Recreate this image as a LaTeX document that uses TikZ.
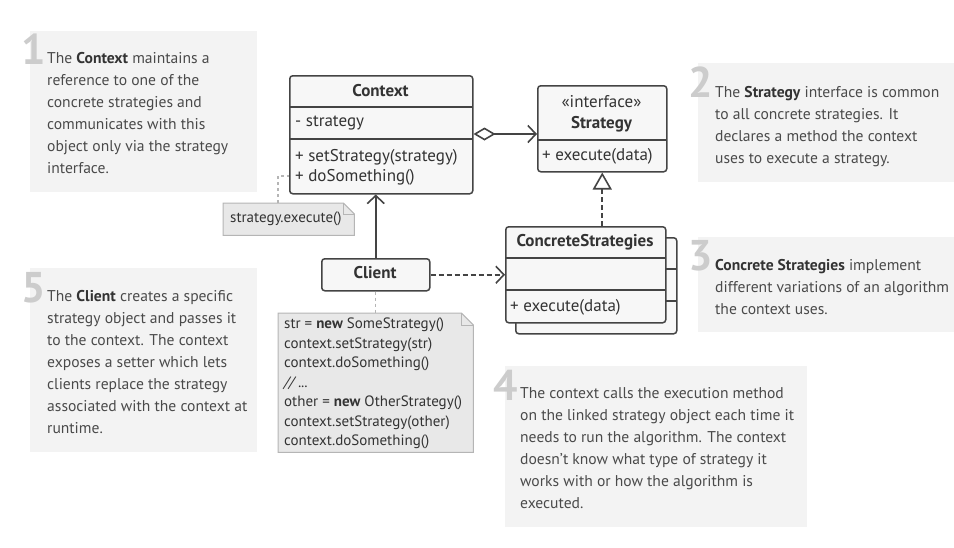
\documentclass[tikz,border=0pt]{standalone}
\usepackage{fontspec}
\setmainfont{PT Sans}
\usetikzlibrary{arrows.meta,calc}
\definecolor{txt}{HTML}{4A4A4A}
\definecolor{txtdark}{HTML}{333333}
\definecolor{bgbox}{HTML}{F3F3F3}
\definecolor{numc}{HTML}{CCCCCC}
\definecolor{umlc}{HTML}{444444}
\definecolor{umlfill}{HTML}{F7F7F7}
\definecolor{notefill}{HTML}{E8E8E8}
\definecolor{notebd}{HTML}{B5B5B5}
\begin{document}
\begin{tikzpicture}[x=1pt,y=-1pt,
  bgrect/.style={fill=bgbox,draw=none,inner sep=0,anchor=north west},
  num/.style={text=numc,font=\fontsize{43}{43}\selectfont\bfseries,inner sep=0,anchor=south west},
  ann/.style={text=txt,font=\fontsize{15.6}{22}\selectfont,align=left,inner sep=0,anchor=north west},
  umlbox/.style={draw=umlc,fill=umlfill,line width=1.5pt,rounded corners=3pt,inner sep=0,anchor=north west},
  umlline/.style={draw=umlc,line width=1.5pt},
  umltxt/.style={text=txtdark,font=\fontsize{17}{20}\selectfont,inner sep=0},
  umlbold/.style={text=txtdark,font=\fontsize{17}{20}\selectfont\bfseries,inner sep=0},
  notebox/.style={draw=notebd,fill=notefill,line width=1pt},
  notetxt/.style={text=txtdark,font=\fontsize{15}{19.5}\selectfont,align=left,inner sep=0,anchor=north west},
  conn/.style={draw=umlc,line width=1.6pt},
  vhead/.style={-{Straight Barb[length=8pt,width=17pt,line width=1.6pt]}},
  dotc/.style={draw=notebd,line width=1.2pt,dash pattern=on 3pt off 3pt}
]
\useasboundingbox (0,0) rectangle (954,547);

% ---------- annotation boxes ----------
\node[bgrect,minimum width=227,minimum height=161] (b1) at (30,31) {};
\node[num] (n1) at (21,65) {1};
\node[ann] (t1) at (47,52) {The \textbf{\color{txtdark}Context} maintains a\\reference to one of the\\concrete strategies and\\communicates with this\\object only via the strategy\\interface.};

\node[bgrect,minimum width=256,minimum height=119] (b2) at (698,63) {};
\node[num] (n2) at (688,98) {2};
\node[ann] (t2) at (715,86) {The \textbf{\color{txtdark}Strategy} interface is common\\to all concrete strategies. It\\declares a method the context\\uses to execute a strategy.};

\node[bgrect,minimum width=256,minimum height=95] (b3) at (698,237) {};
\node[num] (n3) at (688,271) {3};
\node[ann] (t3) at (715,259) {\textbf{\color{txtdark}Concrete Strategies} implement\\different variations of an algorithm\\the context uses.};

\node[bgrect,minimum width=302,minimum height=161] (b4) at (505,366) {};
\node[num] (n4) at (493,401) {4};
\node[ann] (t4) at (520,387) {The context calls the execution method\\on the linked strategy object each time it\\needs to run the algorithm. The context\\doesn't know what type of strategy it\\works with or how the algorithm is\\executed.};

\node[bgrect,minimum width=227,minimum height=184] (b5) at (30,268) {};
\node[num] (n5) at (21,303) {5};
\node[ann] (t5) at (47,290) {The \textbf{\color{txtdark}Client} creates a specific\\strategy object and passes it\\to the context. The context\\exposes a setter which lets\\clients replace the strategy\\associated with the context at\\runtime.};

% ---------- Context ----------
\node[umlbox,minimum width=183,minimum height=118] (ctx) at (289,75) {};
\draw[umlline] (289,107) -- (472,107);
\draw[umlline] (289,139) -- (472,139);
\node[umlbold] (ctxT) at (380.5,91) {Context};
\node[umltxt,anchor=west] (ctxA) at (295,123) {- strategy};
\node[umltxt,anchor=west] (ctxM1) at (295,157) {+ setStrategy(strategy)};
\node[umltxt,anchor=west] (ctxM2) at (295,177) {+ doSomething()};

% ---------- Strategy ----------
\node[umlbox,minimum width=129,minimum height=86] (str) at (537,85) {};
\draw[umlline] (537,140) -- (666,140);
\node[umltxt] (strS) at (601.5,102) {«interface»};
\node[umlbold] (strT) at (601.5,124) {Strategy};
\node[umltxt,anchor=west] (strM) at (542,156) {+ execute(data)};

% ---------- ConcreteStrategies ----------
\node[umlbox,minimum width=161,minimum height=96] (csb) at (515,237) {};
\draw[umlline] (665,269) -- (676,269);
\draw[umlline] (665,301) -- (676,301);
\node[umlbox,minimum width=160,minimum height=96] (cs) at (505,226) {};
\draw[umlline] (505,258) -- (665,258);
\draw[umlline] (505,290) -- (665,290);
\node[umlbold] (csT) at (585,242) {ConcreteStrategies};
\node[umltxt,anchor=west] (csM) at (510,307) {+ execute(data)};

% ---------- Client ----------
\node[umlbox,minimum width=108,minimum height=32] (cl) at (321,258) {};
\node[umlbold] (clT) at (375,273) {Client};

% ---------- notes ----------
\node[inner sep=0,minimum width=131,minimum height=32,anchor=north west] (ne) at (223,203) {};
\draw[notebox] (ne.north west) -- ($(ne.north east)+(-11,0)$) -- ($(ne.north east)+(0,11)$) -- (ne.south east) -- (ne.south west) -- cycle;
\draw[notebox,fill=none] ($(ne.north east)+(-11,0)$) -- ($(ne.north east)+(-11,11)$) -- ($(ne.north east)+(0,11)$);
\node[notetxt,anchor=west] (neT) at (230,219) {strategy.execute()};

\node[inner sep=0,minimum width=195,minimum height=139,anchor=north west] (nc) at (278,313) {};
\draw[notebox] (nc.north west) -- ($(nc.north east)+(-12,0)$) -- ($(nc.north east)+(0,12)$) -- (nc.south east) -- (nc.south west) -- cycle;
\draw[notebox,fill=none] ($(nc.north east)+(-12,0)$) -- ($(nc.north east)+(-12,12)$) -- ($(nc.north east)+(0,12)$);
\node[notetxt] (ncT) at (284,318) {str = \textbf{new} SomeStrategy()\\context.setStrategy(str)\\context.doSomething()\\\textit{// ...}\\other = \textbf{new} OtherStrategy()\\context.setStrategy(other)\\context.doSomething()};

% ---------- connectors ----------
\draw[conn,{Diamond[open,length=22pt,width=13pt,line width=1.6pt,fill=white]}-{Straight Barb[length=8pt,width=17pt,line width=1.6pt]}] (ctx.east |- 0,134) -- (str.west |- 0,134);
\draw[conn,dash pattern=on 5pt off 3pt,-{Triangle[open,length=17pt,width=19pt,line width=1.6pt,fill=white]}] (cs.north -| str.south) -- (str.south);
\draw[conn,vhead] (cl.north) -- (cl.north |- ctx.south);
\draw[conn,dash pattern=on 5pt off 3pt,vhead] (cl.east) -- (cl.east -| cs.west);
\draw[dotc] (ne.north west -| 278,0) -- (278,176) -- (ctx.west |- 0,176);
\draw[dotc] (cl.south) -- (cl.south |- nc.north);
\end{tikzpicture}
\end{document}
